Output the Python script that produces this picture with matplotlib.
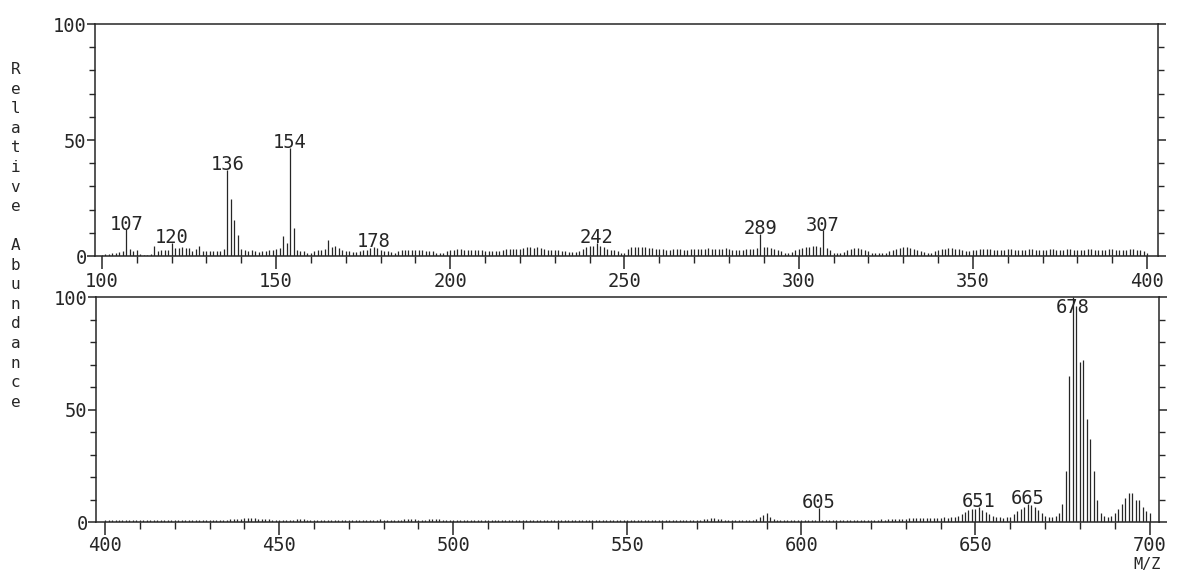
import numpy as np
import matplotlib.pyplot as plt

# spectrum, one intensity per integer m/z (relative abundance, %)
top_start = 100
top_int = [
    # 100-109
    0.5, 0.8, 1.0, 1.2, 1.5, 1.8, 2.0, 11.5, 3.0, 2.0,
    # 110-119
    2.5, 1.0, 0.5, 0.5, 0.8, 4.3, 2.0, 2.5, 2.6, 2.6,
    # 120-129
    5.8, 3.6, 3.6, 3.7, 3.5, 3.4, 2.2, 3.0, 4.2, 2.0,
    # 130-139
    2.0, 2.0, 2.3, 2.0, 2.2, 3.2, 37.0, 24.5, 15.5, 9.0,
    # 140-149
    3.0, 2.5, 2.0, 2.4, 2.0, 1.6, 2.0, 2.2, 2.5, 2.5,
    # 150-159
    3.0, 3.3, 8.7, 5.5, 46.5, 12.0, 2.5, 2.0, 2.0, 1.5,
    # 160-169
    1.5, 2.0, 2.5, 2.5, 3.0, 6.8, 4.0, 4.3, 3.3, 2.6,
    # 170-179
    2.0, 2.0, 1.8, 1.8, 2.0, 2.5, 2.6, 3.3, 4.0, 3.3,
    # 180-189
    2.6, 2.0, 2.0, 1.8, 1.5, 2.0, 2.5, 2.5, 2.6, 2.6,
    # 190-199
    2.6, 2.5, 2.5, 2.2, 2.0, 2.0, 1.5, 1.5, 1.5, 2.0,
    # 200-209
    2.5, 2.8, 2.9, 2.9, 2.8, 2.5, 2.5, 2.8, 2.8, 2.5,
    # 210-219
    2.2, 2.0, 2.0, 2.0, 2.2, 2.5, 3.0, 3.2, 3.2, 3.0,
    # 220-229
    3.2, 3.5, 4.0, 3.8, 3.5, 4.0, 3.5, 3.0, 2.6, 2.6,
    # 230-239
    2.6, 2.5, 2.2, 2.0, 1.9, 1.9, 1.8, 2.0, 3.0, 4.0,
    # 240-249
    4.5, 4.5, 5.5, 4.5, 4.0, 3.0, 2.5, 2.5, 2.0, 1.5,
    # 250-259
    1.5, 3.0, 3.8, 4.0, 4.0, 4.0, 3.8, 3.5, 3.5, 3.2,
    # 260-269
    3.0, 2.9, 2.8, 2.8, 2.9, 3.0, 3.0, 2.8, 2.8, 3.0,
    # 270-279
    3.2, 3.2, 3.0, 3.2, 3.4, 3.2, 3.0, 3.0, 3.2, 3.5,
    # 280-289
    3.0, 2.8, 2.6, 2.6, 2.8, 3.0, 3.0, 3.2, 3.5, 9.5,
    # 290-299
    4.0, 3.8, 3.5, 3.0, 2.5, 2.0, 1.5, 1.5, 1.8, 2.5,
    # 300-309
    3.0, 3.5, 4.0, 4.0, 4.3, 4.3, 4.0, 11.0, 3.5, 2.5,
    # 310-319
    1.5, 1.2, 1.5, 1.8, 2.5, 3.2, 3.5, 3.5, 3.2, 2.5,
    # 320-329
    2.0, 1.5, 1.2, 1.2, 1.2, 1.5, 2.0, 2.5, 3.0, 3.5,
    # 330-339
    3.8, 3.8, 3.5, 3.0, 2.5, 2.0, 1.8, 1.5, 1.5, 2.0,
    # 340-349
    2.5, 3.0, 3.2, 3.5, 3.5, 3.2, 3.0, 2.5, 2.0, 2.0,
    # 350-359
    2.5, 2.8, 3.0, 3.0, 3.2, 3.0, 2.8, 2.5, 2.5, 2.8,
    # 360-369
    3.0, 3.0, 2.8, 2.5, 2.5, 2.8, 3.0, 3.0, 2.8, 2.5,
    # 370-379
    2.5, 2.8, 3.0, 3.0, 2.8, 2.6, 2.8, 3.0, 3.0, 2.8,
    # 380-389
    2.5, 2.5, 2.8, 3.0, 3.0, 2.8, 2.5, 2.5, 2.8, 3.0,
    # 390-399
    3.0, 2.8, 2.5, 2.5, 2.8, 3.0, 3.0, 2.8, 2.5, 2.0,
    # 400
    1.5,
]

bot_start = 400
bot_int = [
    # 400-409
    1.0, 1.2, 0.9, 1.2, 1.0, 1.2, 0.9, 1.1, 1.0, 1.2,
    # 410-419
    1.0, 1.1, 0.9, 1.2, 1.0, 1.0, 1.2, 0.9, 1.0, 1.1,
    # 420-429
    1.0, 1.2, 1.0, 0.9, 1.1, 1.0, 1.2, 1.0, 0.9, 1.1,
    # 430-439
    1.0, 1.2, 1.0, 1.1, 1.0, 1.2, 1.3, 1.4, 1.5, 1.6,
    # 440-449
    1.8, 1.8, 2.0, 1.8, 1.6, 1.5, 1.4, 1.3, 1.2, 1.1,
    # 450-459
    1.0, 1.1, 1.0, 1.2, 1.0, 1.3, 1.4, 1.3, 1.2, 1.0,
    # 460-469
    1.0, 1.1, 1.2, 1.0, 1.1, 1.0, 1.2, 1.0, 0.9, 1.1,
    # 470-479
    1.0, 1.2, 1.0, 1.1, 1.0, 1.2, 1.0, 1.1, 1.2, 1.3,
    # 480-489
    1.2, 1.1, 1.0, 1.2, 1.0, 1.1, 1.3, 1.4, 1.5, 1.4,
    # 490-499
    1.2, 1.1, 1.2, 1.5, 1.6, 1.5, 1.4, 1.2, 1.1, 1.0,
    # 500-509
    1.0, 1.1, 1.0, 1.2, 1.0, 1.1, 1.0, 1.2, 1.0, 0.9,
    # 510-519
    1.0, 1.2, 1.1, 1.0, 1.2, 1.0, 0.9, 1.1, 1.0, 1.2,
    # 520-529
    1.0, 1.1, 1.0, 1.2, 1.0, 0.9, 1.1, 1.0, 1.2, 1.0,
    # 530-539
    1.0, 1.1, 1.2, 1.0, 1.1, 1.0, 1.2, 1.0, 0.9, 1.0,
    # 540-549
    1.1, 1.0, 1.2, 1.0, 1.1, 1.0, 1.2, 1.0, 0.9, 1.1,
    # 550-559
    1.0, 1.1, 1.0, 1.2, 1.0, 1.1, 1.0, 1.2, 1.0, 1.1,
    # 560-569
    1.0, 1.1, 1.2, 1.0, 1.1, 1.2, 1.0, 1.1, 1.0, 1.2,
    # 570-579
    1.1, 1.2, 1.3, 1.6, 1.8, 1.8, 1.6, 1.3, 1.2, 1.1,
    # 580-589
    1.0, 1.1, 1.0, 1.2, 1.0, 1.1, 1.2, 1.5, 2.2, 3.2,
    # 590-599
    4.0, 2.2, 1.3, 1.1, 1.0, 1.2, 1.0, 1.1, 1.0, 1.1,
    # 600-609
    1.0, 1.2, 1.0, 1.1, 1.2, 6.5, 1.2, 1.0, 1.1, 1.0,
    # 610-619
    1.2, 1.0, 1.1, 1.0, 1.2, 1.1, 1.0, 1.2, 1.1, 1.0,
    # 620-629
    1.2, 1.1, 1.2, 1.3, 1.2, 1.3, 1.4, 1.5, 1.4, 1.5,
    # 630-639
    1.6, 1.8, 1.8, 2.0, 1.9, 1.8, 2.0, 2.0, 1.9, 2.0,
    # 640-649
    2.0, 2.2, 2.0, 2.4, 2.4, 2.6, 3.5, 4.5, 5.3, 6.0,
    # 650-659
    6.0, 7.0, 5.3, 4.6, 3.9, 2.8, 2.4, 2.2, 2.0, 2.2,
    # 660-669
    2.5, 3.5, 5.0, 6.0, 7.0, 8.0, 7.5, 7.0, 5.5, 4.0,
    # 670-679
    3.0, 2.5, 2.5, 3.0, 4.0, 8.0, 23.0, 65.0, 100.0, 96.0,
    # 680-689
    71.0, 72.0, 46.0, 37.0, 23.0, 10.0, 4.0, 3.0, 2.5, 3.0,
    # 690-699
    4.0, 6.0, 8.0, 11.0, 13.0, 13.0, 10.0, 10.0, 7.0, 5.0,
    # 700
    4.0,
]

top_labels = [107, 120, 136, 154, 178, 242, 289, 307]
bot_labels = [605, 651, 665, 678]

ink = '#262626'
plt.rcParams['font.family'] = 'DejaVu Sans Mono'

fig = plt.figure(figsize=(11.78, 5.74), dpi=100)
ax1 = fig.add_axes([0.0806, 0.554, 0.902, 0.404])
ax2 = fig.add_axes([0.0815, 0.09, 0.902, 0.3925])


def draw_panel(ax, start, ints, labels, xlim, xmin, xmax, xpad):
    mz = np.arange(start, start + len(ints))
    ints = np.array(ints)
    ax.vlines(mz, 0, ints, color=ink, lw=0.9)
    for m in labels:
        v = ints[m - start]
        ax.annotate(str(m), (m, min(v, 93)), xytext=(0, -3), textcoords='offset points',
                    ha='center', va='bottom', fontsize=13.5, color=ink)
    ax.set_xlim(*xlim)
    ax.set_ylim(0, 100)
    ax.set_xticks(np.arange(xmin, xmax + 1, 50))
    ax.set_xticks(np.arange(xmin, xmax + 1, 10), minor=True)
    ax.set_yticks([0, 50, 100])
    ax.set_yticks(np.arange(0, 101, 10), minor=True)
    ax.tick_params(axis='x', which='major', length=9, width=1.1, pad=xpad, labelsize=13.5, colors=ink)
    ax.tick_params(axis='x', which='minor', length=5, width=1.0, colors=ink)
    ax.tick_params(axis='y', which='major', length=6, width=1.1, pad=0, labelsize=13.5,
                   colors=ink, right=True)
    ax.tick_params(axis='y', which='minor', length=4, width=1.0, colors=ink, right=True)
    for s in ax.spines.values():
        s.set_color(ink)
        s.set_linewidth(1.1)


draw_panel(ax1, top_start, top_int, top_labels, (98, 403), 100, 400, 2.5)
draw_panel(ax2, bot_start, bot_int, bot_labels, (397.4, 702.6), 400, 700, 0.5)

fig.text(0.013, 0.589, '\n'.join('Relative Abundance'), ha='center', va='center',
         fontsize=11.5, linespacing=1.38, color=ink)
fig.text(0.985, 0.003, 'M/Z', ha='right', va='bottom', fontsize=11, color=ink)

plt.savefig('out.png', dpi=100)
